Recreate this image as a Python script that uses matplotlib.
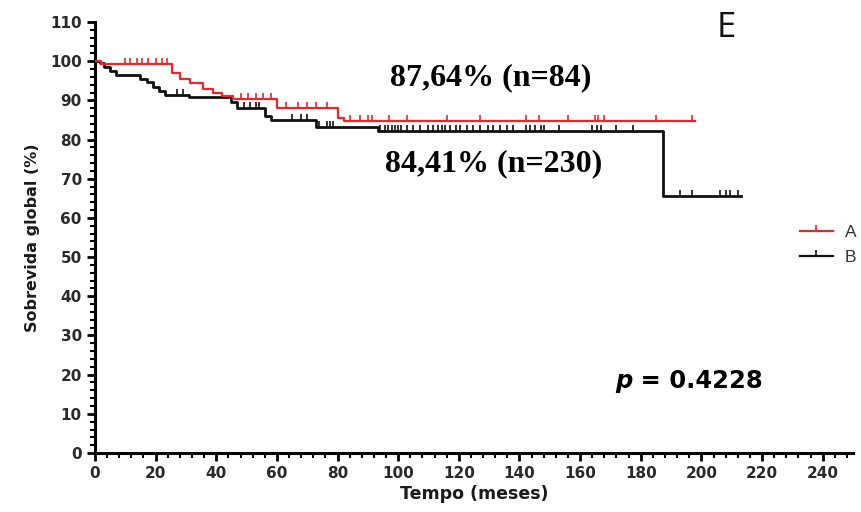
import numpy as np
import matplotlib
matplotlib.use("Agg")
import matplotlib.pyplot as plt
from matplotlib.lines import Line2D
from matplotlib.markers import TICKUP

# Curva de sobrevida do grupo A (tempo em meses, sobrevida em %)
tempo_a = [0, 2, 25.5, 28, 31.5, 35.5, 39, 42, 45.5, 60, 80, 82, 198]
sobrev_a = [100, 99.2, 97, 95.5, 94.5, 93, 92, 91, 90.3, 88, 85.5, 84.7, 84.7]
censura_a = [10, 11.5, 14, 15.5, 17.5, 20, 22, 23.8, 48, 50.5, 53, 55.5, 58,
             63, 67, 70, 73, 76.5, 84, 87.5, 90, 91.5, 97, 103, 116, 127,
             142, 146.5, 156, 165, 166, 168, 185, 197]

# Curva de sobrevida do grupo B
tempo_b = [0, 1.5, 3, 5, 7, 15, 17, 19, 21, 23, 31, 45, 47, 56, 58, 73,
           93.5, 187.5, 213]
sobrev_b = [100, 99.5, 98.5, 97.5, 96.5, 95.5, 94.6, 93.5, 92.5, 91.5,
            90.8, 89.5, 88, 86, 84.9, 83.3, 82.1, 65.6, 65.6]
censura_b = [27, 29, 49, 51, 53, 54, 65, 68, 70, 74, 76.5, 77.5, 78.5,
             94, 95.7, 96.7, 98, 99, 100, 101, 103, 105, 107.3, 110, 111.5,
             113, 114.5, 115.5, 117, 119, 120.5, 122.7, 124.8, 127, 129.5,
             131.4, 133.7, 136, 138, 142, 143.5, 145, 147, 148, 153, 164,
             165.5, 167, 172, 177.5, 193, 197, 206, 208, 209.5, 212]

xticks = np.arange(0, 241, 20)
yticks = np.arange(0, 111, 10)


def valor_no_tempo(tempos, valores, t):
    # valor da curva em degrau (post) no instante t
    idx = np.searchsorted(tempos, t, side="right") - 1
    return np.asarray(valores)[idx]


fig = plt.figure(figsize=(8.61, 5.12), dpi=100)
ax = fig.add_axes([0.1103, 0.1152, 0.8804, 0.8418])

cor_a = "#e8262c"
cor_b = "#111111"

ax.step(tempo_a, sobrev_a, where="post", color=cor_a, lw=1.6, zorder=3)
ax.plot(censura_a, valor_no_tempo(tempo_a, sobrev_a, censura_a), ls="none",
        marker=TICKUP, ms=4, mew=1.2, color=cor_a, zorder=3)
ax.step(tempo_b, sobrev_b, where="post", color=cor_b, lw=2.0, zorder=2)
ax.plot(censura_b, valor_no_tempo(tempo_b, sobrev_b, censura_b), ls="none",
        marker=TICKUP, ms=4, mew=1.2, color=cor_b, zorder=2)

ax.set_xlim(0, 250)
ax.set_ylim(0, 110)
ax.set_xticks(xticks)
ax.set_yticks(yticks)
ax.set_xticks(np.arange(0, 251, 4), minor=True)
ax.set_yticks(np.arange(0, 111, 2), minor=True)

for s in ["top", "right"]:
    ax.spines[s].set_visible(False)
for s in ["left", "bottom"]:
    ax.spines[s].set_linewidth(2.2)
ax.tick_params(which="major", length=6, width=2, direction="out",
               labelsize=11, labelcolor="#2a2a2a")
ax.tick_params(which="minor", length=3.5, width=1.5, direction="out")
for lab in ax.get_xticklabels() + ax.get_yticklabels():
    lab.set_fontweight("bold")
    lab.set_fontfamily("DejaVu Sans")

ax.set_xlabel("Tempo (meses)", fontsize=12.5, fontweight="bold",
              family="DejaVu Sans", color="#1a1a1a", labelpad=3)
ax.set_ylabel("Sobrevida global (%)", fontsize=11.5, fontweight="bold",
              family="DejaVu Sans", color="#1a1a1a", labelpad=7)

# legenda
handles = [Line2D([], [], color=cor_a, lw=1.6, marker=TICKUP, ms=4, mew=1.2),
           Line2D([], [], color=cor_b, lw=1.6, marker=TICKUP, ms=4, mew=1.2)]
leg = ax.legend(handles, ["A", "B"], loc="center left",
                bbox_to_anchor=(0.915, 0.521), bbox_transform=fig.transFigure,
                frameon=False, handlelength=1.9, handletextpad=0.7,
                labelspacing=0.55, borderpad=0.2,
                prop={"family": "Liberation Sans", "size": 12.5})
for t in leg.get_texts():
    t.set_color("#333333")

# textos do gráfico
fig.text(0.570, 0.848, "87,64% (n=84)", ha="center", va="center",
         family="Liberation Serif", fontweight="bold", fontsize=23)
fig.text(0.573, 0.681, "84,41% (n=230)", ha="center", va="center",
         family="Liberation Serif", fontweight="bold", fontsize=23)
fig.text(0.843, 0.946, "E", ha="center", va="center",
         family="Open Sans", fontsize=25, color="#111111")

p_txt = fig.text(0.714, 0.256, "p", ha="left", va="center",
                 family="DejaVu Sans", fontweight="bold", fontstyle="italic",
                 fontsize=17.5)
ax.annotate(" = 0.4228", xy=(1, 0.5), xycoords=p_txt, ha="left", va="center",
            family="DejaVu Sans", fontweight="bold", fontsize=17.5)

fig.savefig("out.png", dpi=100)
